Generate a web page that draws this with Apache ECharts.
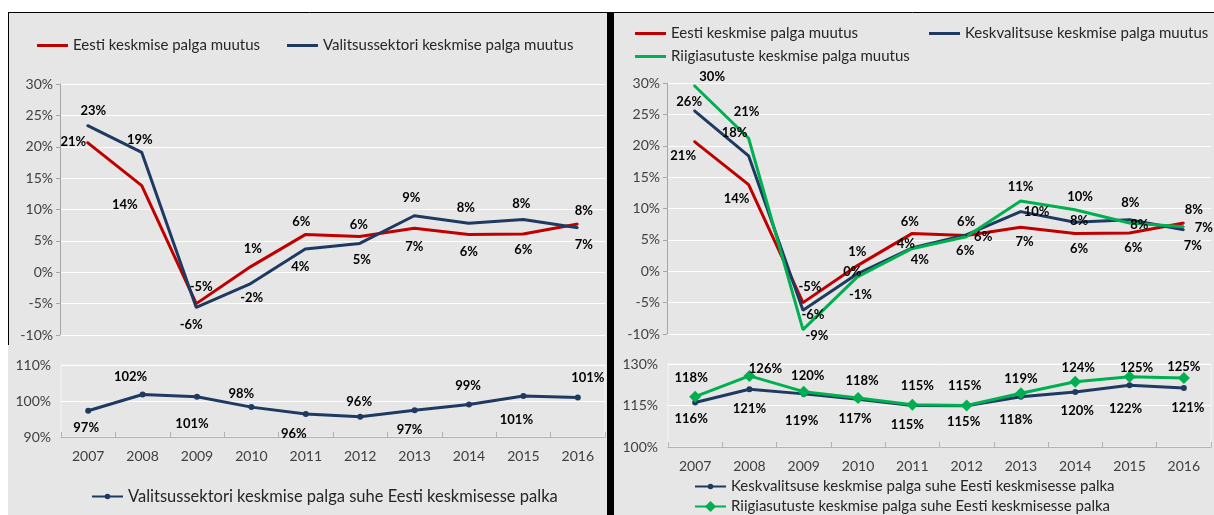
<!DOCTYPE html>
<html>
<head>
<meta charset="utf-8">
<script src="https://cdn.jsdelivr.net/npm/echarts@6/dist/echarts.min.js"></script>
<style>
  html, body { margin: 0; padding: 0; background: #fff; }
  #chart { width: 1214px; height: 515px; }
</style>
</head>
<body>
<div id="chart"></div>
<script>
// andmed (loetud pildilt)
const years = ['2007', '2008', '2009', '2010', '2011', '2012', '2013', '2014', '2015', '2016']
const eestiChange = [20.7, 13.8, -5.0, 0.9, 6.0, 5.7, 7.0, 6.0, 6.1, 7.7]
const valitsusChange = [23.4, 19.1, -5.6, -1.8, 3.7, 4.6, 9.0, 7.8, 8.4, 7.1]
const valitsusRatio = [97.3, 101.8, 101.2, 98.3, 96.4, 95.6, 97.4, 99.0, 101.4, 101.0]
const keskvalitsusChange = [25.6, 18.4, -6.2, -0.4, 3.7, 5.8, 9.5, 7.8, 8.2, 6.6]
const riigiChange = [29.6, 21.2, -9.3, -0.9, 3.6, 5.5, 11.2, 9.8, 7.7, 7.1]
const keskvalitsusRatio = [116.1, 120.9, 119.2, 117.3, 115.0, 114.9, 118.2, 119.9, 122.3, 121.3]
const riigiRatio = [118.2, 125.7, 120.0, 117.7, 115.3, 115.0, 119.4, 123.6, 125.4, 124.9]

// sildi nihked punkti suhtes (ainult paigutus)
const shiftEestiL = [[-14, -1], [-17, 19], [5, -17], [2, -18], [-4, -13], [-1, -12], [0, 18], [0, 17], [0, 16], [6, -13]]
const shiftValitsusL = [[6, -15], [-2, -13], [-5, 17], [1, 14], [-5, 18], [2, 16], [-3, -18], [-3, -15], [-2, -16], [6, 17]]
const shiftRatioL = [[-2, 17], [-12, -18], [-5, 27], [-10, -13], [-12, 20], [-1, -15], [-5, 19], [-1, -19], [-7, 24], [10, -20]]
const shiftEestiR = [[-11, 14], [-12, 14], [7, -16], [0, -14], [-2, -12], [0, -14], [4, 14], [4, 15], [4, 15], [10, -13]]
const shiftKeskR = [[-5, -9], [-14, -23], [10, 5], [-5, -2], [-6, -4], [17, 2], [16, 0], [4, -1], [1, -17], [9, 16]]
const shiftRiigiR = [[18, -9], [-2, -26], [14, 6], [3, 18], [8, 11], [-1, 14], [0, -14], [5, -13], [10, 2], [20, 1]]
const shiftKeskRatio = [[-4, 16], [0, 20], [-2, 27], [-3, 20], [-5, 19], [-3, 16], [-5, 23], [2, 19], [-4, 24], [4, 20]]
const shiftRiigiRatio = [[-4, -19], [16, -7], [4, -16], [4, -17], [5, -19], [-2, -20], [0, -15], [3, -14], [7, -9], [0, -11]]

const RED = '#c00000'
const BLUE = '#1f3a60'
const GREEN = '#00b050'
const BG = '#e6e6e6'
const FONT = 'Lato'

var myChart = echarts.init(document.getElementById('chart'))

function items(values, shifts) {
  return values.map((v, i) => ({ value: v, label: { offset: shifts[i] } }))
}

function lineSeries(name, values, shifts, color, axis, symbol, size) {
  return {
    name: name,
    type: 'line',
    xAxisIndex: axis,
    yAxisIndex: axis,
    data: items(values, shifts),
    symbol: symbol,
    symbolSize: size,
    showSymbol: true,
    animation: false,
    lineStyle: { color: color, width: 3 },
    itemStyle: { color: color },
    label: {
      show: true,
      position: 'inside',
      color: '#000',
      fontFamily: FONT,
      fontWeight: 'bold',
      fontSize: 13,
      formatter: p => Math.round(p.value) + '%'
    },
    emphasis: { disabled: true }
  }
}

// lineOnly: ainult joon legendis (ülemised graafikud)
function legendAt(name, left, top, lineOnly, h, fontSize) {
  return {
    data: [lineOnly ? { name: name, icon: 'rect' } : name],
    left: left,
    top: top,
    padding: 0,
    itemWidth: 31,
    itemHeight: h,
    itemGap: 0,
    textStyle: { color: '#262626', fontFamily: FONT, fontSize: fontSize },
    selectedMode: false
  }
}

function xCat(gridIndex, showLabels) {
  return {
    type: 'category',
    gridIndex: gridIndex,
    data: years,
    boundaryGap: true,
    axisLine: { show: showLabels, lineStyle: { color: '#b3b3b3' } },
    axisTick: { show: showLabels, inside: true, length: 5, lineStyle: { color: '#b3b3b3' } },
    axisLabel: { show: showLabels, color: '#404040', fontFamily: FONT, fontSize: 14, margin: 12 },
    splitLine: { show: false }
  }
}

function yVal(gridIndex, min, max, interval, top) {
  return {
    type: 'value',
    gridIndex: gridIndex,
    min: min,
    max: max,
    interval: interval,
    axisLine: { show: top, lineStyle: { color: '#a6a6a6' } },
    axisTick: { show: top, length: 4, lineStyle: { color: '#a6a6a6' } },
    axisLabel: {
      color: '#404040',
      fontFamily: FONT,
      fontSize: 14,
      margin: top ? 7 : 10,
      formatter: v => v + '%'
    },
    splitLine: { show: true, lineStyle: { color: '#ffffff', width: 1 } }
  }
}

var option = {
  animation: false,
  graphic: [
    { type: 'rect', shape: { x: 8, y: 12, width: 599, height: 503 }, style: { fill: BG }, silent: true, z: -10 },
    { type: 'rect', shape: { x: 614, y: 12, width: 600, height: 503 }, style: { fill: BG }, silent: true, z: -10 },
    { type: 'rect', shape: { x: 607, y: 12, width: 7, height: 503 }, style: { fill: '#000' }, silent: true, z: -9 },
    { type: 'line', shape: { x1: 8, y1: 12.5, x2: 1214, y2: 12.5 }, style: { stroke: '#000', lineWidth: 1 }, silent: true, z: -9 },
    { type: 'line', shape: { x1: 8.5, y1: 12, x2: 8.5, y2: 345 }, style: { stroke: '#000', lineWidth: 1 }, silent: true, z: -9 }
  ],
  legend: [
    legendAt('Eesti keskmise palga muutus', 37, 38, true, 3, 15),
    legendAt('Valitsussektori keskmise palga muutus', 287, 38, true, 3, 15),
    legendAt('Valitsussektori keskmise palga suhe Eesti keskmisesse palka', 91, 488, false, 7, 16.5),
    legendAt('Eesti keskmise palga muutus', 635, 26, true, 3, 15),
    legendAt('Keskvalitsuse keskmise palga muutus', 929, 26, true, 3, 15),
    legendAt('Riigiasutuste keskmise palga muutus', 635, 49, true, 3, 15),
    legendAt('Keskvalitsuse keskmise palga suhe Eesti keskmisesse palka', 694, 479, false, 7, 15),
    legendAt('Riigiasutuste keskmise palga suhe Eesti keskmisesse palka', 694, 499, false, 14, 15)
  ],
  grid: [
    { left: 60, top: 84, width: 545, height: 251 },
    { left: 61, top: 365, width: 544, height: 72, show: true, borderColor: '#f4f4f4', backgroundColor: 'transparent' },
    { left: 667, top: 83, width: 544, height: 251 },
    { left: 668, top: 364, width: 543, height: 83, show: true, borderColor: '#f4f4f4', backgroundColor: 'transparent' }
  ],
  xAxis: [xCat(0, false), xCat(1, true), xCat(2, false), xCat(3, true)],
  yAxis: [
    yVal(0, -10, 30, 5, true),
    yVal(1, 90, 110, 10, false),
    yVal(2, -10, 30, 5, true),
    yVal(3, 100, 130, 15, false)
  ],
  series: [
    lineSeries('Eesti keskmise palga muutus', eestiChange, shiftEestiL, RED, 0, 'circle', 2),
    lineSeries('Valitsussektori keskmise palga muutus', valitsusChange, shiftValitsusL, BLUE, 0, 'circle', 2),
    lineSeries('Valitsussektori keskmise palga suhe Eesti keskmisesse palka', valitsusRatio, shiftRatioL, BLUE, 1, 'circle', 6),
    lineSeries('Eesti keskmise palga muutus', eestiChange, shiftEestiR, RED, 2, 'circle', 2),
    lineSeries('Keskvalitsuse keskmise palga muutus', keskvalitsusChange, shiftKeskR, BLUE, 2, 'circle', 2),
    lineSeries('Riigiasutuste keskmise palga muutus', riigiChange, shiftRiigiR, GREEN, 2, 'circle', 2),
    lineSeries('Keskvalitsuse keskmise palga suhe Eesti keskmisesse palka', keskvalitsusRatio, shiftKeskRatio, BLUE, 3, 'circle', 6),
    lineSeries('Riigiasutuste keskmise palga suhe Eesti keskmisesse palka', riigiRatio, shiftRiigiRatio, GREEN, 3, 'diamond', 12)
  ]
}

option && myChart.setOption(option)
</script>
</body>
</html>
